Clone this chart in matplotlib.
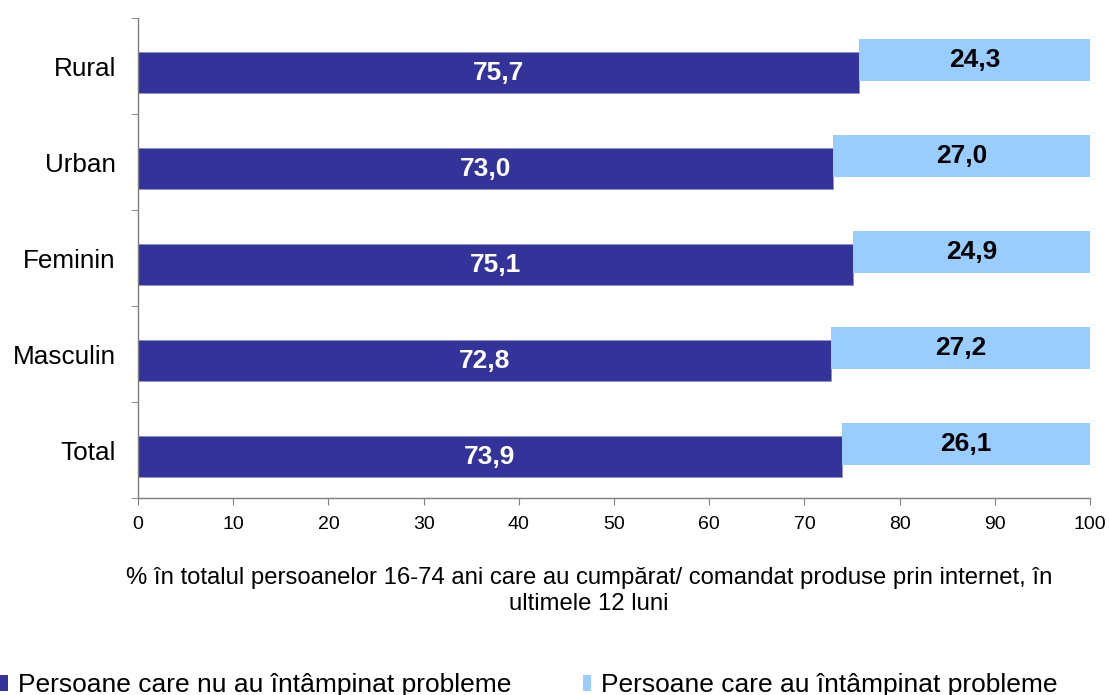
import matplotlib
matplotlib.use("Agg")
import matplotlib.pyplot as plt
from matplotlib.patches import Rectangle
import numpy as np

plt.rcParams["font.family"] = ["Liberation Sans", "DejaVu Sans"]

categories = ["Total", "Masculin", "Feminin", "Urban", "Rural"]
no_problems = [73.9, 72.8, 75.1, 73.0, 75.7]
with_problems = [26.1, 27.2, 24.9, 27.0, 24.3]
series_names = ["Persoane care nu au întâmpinat probleme",
                "Persoane care au întâmpinat probleme"]
x_title = ("% în totalul persoanelor 16-74 ani care au cumpărat/ comandat produse prin internet, în\n"
           "ultimele 12 luni")

DARK = "#333399"
LIGHT = "#99CCFF"
W, H = 1109, 695


def fmt(v):
    return f"{v:.1f}".replace(".", ",")


fig = plt.figure(figsize=(W / 100, H / 100), dpi=100)
ax = fig.add_axes([138 / W, 1 - 498 / H, (1090 - 138) / W, (498 - 18) / H])

y = np.arange(len(categories))
y_dark = y - 0.068
y_light = y + 0.063

ax.barh(y_dark, no_problems, height=0.43, color=DARK, edgecolor="#8f8fcc", linewidth=0.6)
ax.barh(y_light, with_problems, left=no_problems, height=0.44, color=LIGHT, linewidth=0)

for yd, yl, a, b in zip(y_dark, y_light, no_problems, with_problems):
    ax.text(a / 2, yd, fmt(a), ha="center", va="center", color="white",
            fontsize=19, fontweight="bold")
    ax.text(a + b / 2, yl, fmt(b), ha="center", va="center", color="black",
            fontsize=19, fontweight="bold")

ax.set_xlim(0, 100)
ax.set_ylim(-0.5, len(categories) - 0.5)
ax.set_xticks(np.arange(0, 101, 10))
ax.tick_params(axis="x", labelsize=14, direction="out", length=5, color="#7f7f7f", pad=8)

ax.set_yticks(y)
ax.set_yticklabels(categories, fontsize=18.8)
ax.tick_params(axis="y", which="major", length=0, pad=16)
ax.set_yticks(np.arange(-0.5, len(categories), 1.0), minor=True)
ax.tick_params(axis="y", which="minor", direction="out", length=5, color="#7f7f7f")

for s in ["top", "right"]:
    ax.spines[s].set_visible(False)
for s in ["left", "bottom"]:
    ax.spines[s].set_color("#7f7f7f")
    ax.spines[s].set_linewidth(1.0)

fig.text(589 / W, 1 - 591 / H, x_title, ha="center", va="center",
         fontsize=17.2, linespacing=1.22)

# legend drawn by hand so the squares and labels sit where the reference has them
legend_x = [0, 583]
for lx, color, name in zip(legend_x, [DARK, LIGHT], series_names):
    fig.patches.append(Rectangle((lx / W, 1 - 691 / H), 8 / W, 16 / H,
                                 transform=fig.transFigure, facecolor=color,
                                 edgecolor="none"))
    fig.text((lx + 18) / W, 1 - 692 / H, name, ha="left", va="baseline", fontsize=19)

fig.savefig("out.png", dpi=100)
